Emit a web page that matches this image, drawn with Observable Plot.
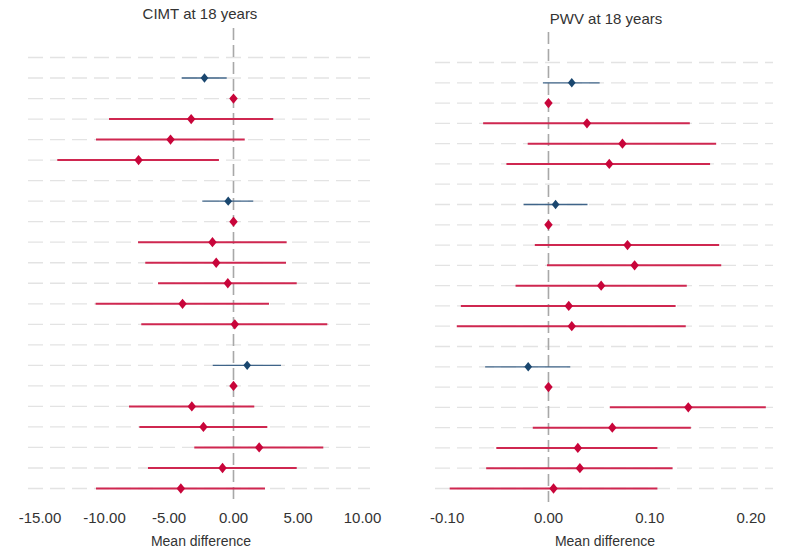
<!DOCTYPE html>
<html>
<head>
<meta charset="utf-8">
<script src="https://cdn.jsdelivr.net/npm/d3@7"></script>
<script src="https://cdn.jsdelivr.net/npm/@observablehq/plot@0.6"></script>
<style>
  html, body { margin: 0; padding: 0; background: #fff; }
  #wrap { position: relative; width: 786px; height: 550px; font-family: "Liberation Sans", Arial, sans-serif; color: #333; }
  .panel { position: absolute; top: 0; }
  .lbl { position: absolute; text-align: center; line-height: 14px; white-space: nowrap; }
</style>
</head>
<body>
<div id="wrap"></div>
<script>
// ---- Data (22 rows, top to bottom; null = empty spacer row) ----
const rowType = ["blank","overall","ref","cat","cat","cat",
                 "blank","overall","ref","cat","cat","cat","cat","cat",
                 "blank","overall","ref","cat","cat","cat","cat","cat"];

const cimtEst = [null, -2.25, 0, -3.28, -4.88, -7.36,
                 null, -0.41, 0, -1.63, -1.34, -0.44, -3.95, 0.10,
                 null, 1.06, 0, -3.23, -2.33, 1.99, -0.85, -4.08];
const cimtLo  = [null, -3.98, null, -9.61, -10.62, -13.62,
                 null, -2.38, null, -7.36, -6.80, -5.81, -10.65, -7.11,
                 null, -1.57, null, -8.06, -7.26, -3.00, -6.59, -10.62];
const cimtHi  = [null, -0.49, null, 3.12, 0.91, -1.09,
                 null, 1.57, null, 4.16, 4.11, 4.94, 2.79, 7.31,
                 null, 3.72, null, 1.65, 2.66, 7.00, 4.94, 2.48];

const pwvEst = [null, 0.023, 0, 0.038, 0.073, 0.060,
                null, 0.007, 0, 0.078, 0.085, 0.052, 0.020, 0.023,
                null, -0.020, 0, 0.138, 0.063, 0.029, 0.031, 0.005];
const pwvLo  = [null, -0.005, null, -0.064, -0.020, -0.041,
                null, -0.024, null, -0.013, -0.001, -0.032, -0.086, -0.090,
                null, -0.062, null, 0.061, -0.015, -0.051, -0.061, -0.097];
const pwvHi  = [null, 0.051, null, 0.140, 0.166, 0.160,
                null, 0.039, null, 0.169, 0.171, 0.137, 0.126, 0.136,
                null, 0.022, null, 0.215, 0.141, 0.108, 0.123, 0.108];

const cimtTicks = [-15, -10, -5, 0, 5, 10];
const pwvTicks = [-0.10, 0, 0.10, 0.20];

const titles = ["CIMT at 18 years", "PWV at 18 years"];
const xLabel = "Mean difference";

// ---- Styling ----
const BLUE_DOT = "#1a476f", BLUE_LINE = "#3f6489";
const RED_DOT = "#c8053a", RED_LINE = "#cf2750";
const W = 393, H = 550;

const diamond = {
  draw(ctx, size) {
    const r = Math.sqrt(size / Math.PI);
    ctx.moveTo(0, -r * 1.12);
    ctx.lineTo(r * 0.92, 0);
    ctx.lineTo(0, r * 1.12);
    ctx.lineTo(-r * 0.92, 0);
    ctx.closePath();
  }
};

function panel({est, lo, hi, domain, ticks, mL, mR, mT, mB, zTop, zBot}) {
  const rows = rowType.map((t, i) => ({i, t, est: est[i], lo: lo[i], hi: hi[i]}));
  const ov = rows.filter(d => d.t === "overall");
  const cat = rows.filter(d => d.t === "cat");
  const ref = rows.filter(d => d.t === "ref");
  return Plot.plot({
    width: W, height: H,
    marginLeft: mL, marginRight: mR, marginTop: mT, marginBottom: mB,
    style: {fontFamily: '"Liberation Sans", Arial, sans-serif', fontSize: "15px", color: "#333", background: "transparent"},
    x: {domain, ticks, tickFormat: d => d.toFixed(2), tickSize: 0, tickPadding: 24, label: null},
    y: {domain: [0, rowType.length - 1], reverse: true, axis: null},
    marks: [
      Plot.ruleY(rows, {y: "i", stroke: "#e3e3e3", strokeWidth: 1.3, strokeDasharray: "15,7"}),
      Plot.ruleX([0], {stroke: "#a8a8a8", strokeWidth: 1.6, strokeDasharray: "12,5",
                       insetTop: -(mT - zTop), insetBottom: -(zBot - (H - mB))}),
      Plot.ruleY(ov, {y: "i", x1: "lo", x2: "hi", stroke: BLUE_LINE, strokeWidth: 1.3}),
      Plot.ruleY(cat, {y: "i", x1: "lo", x2: "hi", stroke: RED_LINE, strokeWidth: 2}),
      Plot.dot(ov, {y: "i", x: "est", symbol: diamond, r: 4.2, fill: BLUE_DOT, stroke: "none"}),
      Plot.dot(cat.concat(ref), {y: "i", x: "est", symbol: diamond, r: 4.6, fill: RED_DOT, stroke: "none"})
    ]
  });
}

const wrap = document.getElementById("wrap");

const left = panel({est: cimtEst, lo: cimtLo, hi: cimtHi,
  domain: [-15.89, 10.62], ticks: cimtTicks, mL: 28, mR: 23, mT: 57, mB: 62, zTop: 28, zBot: 503});
left.classList.add("panel"); left.style.left = "0px";
wrap.appendChild(left);

const right = panel({est: pwvEst, lo: pwvLo, hi: pwvHi,
  domain: [-0.1115, 0.2221], ticks: pwvTicks, mL: 42, mR: 13, mT: 62, mB: 62, zTop: 32, zBot: 502});
right.classList.add("panel"); right.style.left = "393px";
wrap.appendChild(right);

function label(text, cx, top, size) {
  const d = document.createElement("div");
  d.className = "lbl";
  d.textContent = text;
  d.style.left = (cx - 100) + "px";
  d.style.width = "200px";
  d.style.top = top + "px";
  d.style.fontSize = size + "px";
  d.style.lineHeight = size + "px";
  wrap.appendChild(d);
}
label(titles[0], 200, 6, 15);
label(titles[1], 606, 11, 15);
label(xLabel, 201, 534, 14);
label(xLabel, 605, 534, 14);
</script>
</body>
</html>
